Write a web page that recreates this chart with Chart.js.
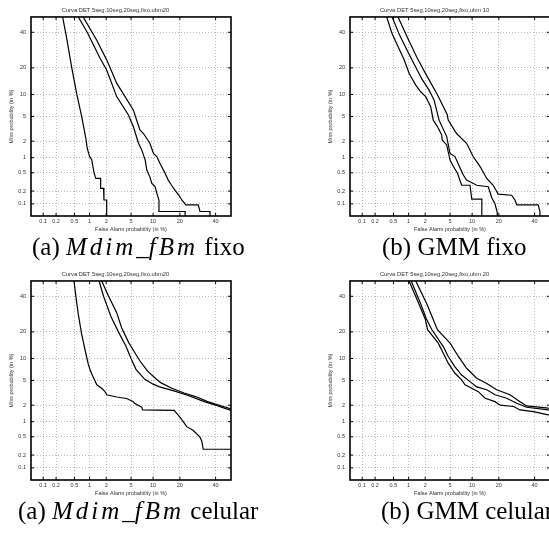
<!DOCTYPE html>
<html>
<head>
<meta charset="utf-8">
<script src="https://cdn.jsdelivr.net/npm/chart.js@4.4.1/dist/chart.umd.min.js"></script>
<style>
  html, body { margin: 0; padding: 0; background: #fff; overflow: hidden; }
  #page { position: relative; width: 549px; height: 534px; overflow: hidden; background: #fff; }
  canvas { position: absolute; }
  .cap { position: absolute; font-family: "Liberation Serif", "DejaVu Serif", serif; font-size: 25px; line-height: 25px; white-space: nowrap; color: #000; }
  .m { font-style: italic; letter-spacing: 3px; }
</style>
</head>
<body>
<div id="page">
  <canvas id="c0" width="262" height="240" style="left:0;top:0"></canvas>
  <canvas id="c1" width="262" height="240" style="left:319px;top:0"></canvas>
  <canvas id="c2" width="262" height="240" style="left:0;top:264px"></canvas>
  <canvas id="c3" width="262" height="240" style="left:319px;top:264px"></canvas>
  <div class="cap" style="left:32px;top:234px">(a) <span class="m">Mdim</span>_<span class="m">fBm</span> fixo</div>
  <div class="cap" style="left:382px;top:234px">(b) GMM fixo</div>
  <div class="cap" style="left:18px;top:498px">(a) <span class="m">Mdim</span>_<span class="m">fBm</span> celular</div>
  <div class="cap" style="left:381px;top:498px">(b) GMM celular</div>
</div>
<script>
// DET axes, values in %
const detTicks = [0.1, 0.2, 0.5, 1, 2, 5, 10, 20, 40];
const axisMin = 0.05;
const axisMax = 50;

const titles = [
  "Curva DET 5seg,10seg,20seg,fixo,ubm20",
  "Curva DET 5seg,10seg,20seg,fixo,ubm 10",
  "Curva DET 5seg,10seg,20seg,fixo,ubm20",
  "Curva DET 5seg,10seg,20seg,fixo,ubm 20"
];

// [false alarm %, miss %]
const mdimFixo20 = [[0.28,50],[0.34,37],[0.44,20],[0.56,10],[0.70,5],[0.85,2.2],[0.9,1.5],[1.0,1.05],[1.1,0.9],[1.2,0.53],[1.3,0.38],[1.6,0.38],[1.6,0.23],[1.8,0.23],[1.83,0.124],[2.04,0.124],[2.04,0.01]];
const mdimFixo10 = [[0.60,50],[0.90,40],[1.56,24.7],[2.04,19],[3.0,9.4],[4.55,5.3],[5.4,3.5],[6.4,1.84],[7.1,1.4],[7.9,0.9],[8.3,0.57],[9.1,0.41],[9.6,0.30],[10.6,0.25],[11.1,0.18],[11.8,0.124],[11.8,0.065],[22.5,0.065],[22.5,0.01]];
const mdimFixo5 = [[0.75,50],[1.36,35],[2.04,23.9],[3.0,13.7],[5.4,6.2],[6.7,3.1],[7.5,2.7],[9.1,1.84],[10.1,1.2],[11.1,1.05],[12.1,0.78],[13.9,0.49],[15.1,0.35],[16.4,0.27],[17.8,0.21],[19.6,0.16],[20.9,0.124],[22.9,0.095],[29.5,0.095],[30.5,0.065],[36.5,0.065],[36.5,0.01]];

const gmmFixo20 = [[0.36,50],[0.47,39],[0.65,30],[0.82,24],[1.02,17.6],[1.36,13],[1.67,10.8],[2.04,9.4],[2.48,6.9],[2.74,4.4],[3.2,3.5],[3.74,2.56],[3.8,2.1],[4.46,1.72],[5.0,0.9],[5.6,0.67],[6.4,0.49],[7.3,0.27],[9.4,0.27],[9.9,0.13],[13.1,0.13],[13.1,0.01]];
const gmmFixo10 = [[0.47,50],[0.65,39],[0.94,29],[1.26,22],[1.78,15],[2.32,11.4],[2.82,8.5],[3.4,4.4],[4.46,2.4],[5.0,1.2],[5.9,1.05],[6.8,0.67],[7.7,0.45],[8.5,0.35],[11.4,0.27],[15.5,0.25],[16.9,0.14],[18.3,0.1],[19.3,0.06],[19.3,0.01]];
const gmmFixo5 = [[0.62,50],[0.94,37],[1.45,24.7],[2.17,16.2],[3.2,9.9],[4.55,5.3],[4.7,4.4],[6.2,2.7],[8.5,1.84],[10.3,1.05],[12.5,0.67],[14.9,0.38],[17.5,0.27],[19.7,0.17],[26.4,0.16],[28.2,0.124],[29.2,0.095],[42.3,0.095],[43.4,0.065],[43.4,0.01]];

const mdimCel20 = [[0.49,50],[0.54,39],[0.60,29],[0.70,19],[0.82,12.6],[0.94,8.5],[1.02,7.1],[1.1,6.2],[1.36,4.3],[1.6,3.9],[1.9,3.4],[2.04,3.0],[3.0,2.75],[4.3,2.6],[5.4,2.3],[5.6,2.16],[7.1,1.84],[7.3,1.65],[17.5,1.62],[20.1,1.2],[21.6,1.0],[23.3,0.8],[26.8,0.67],[30.5,0.49],[31.5,0.41],[32.4,0.27],[60,0.27]];
const mdimCel10 = [[1.5,50],[1.8,40],[2.4,28],[3.2,20],[4.2,14],[5.0,10],[5.9,7.2],[7.8,5.2],[10,4.4],[12,4.0],[17,3.5],[23,3.0],[33,2.3],[40,2.0],[50,1.62],[60,1.5]];
const mdimCel5 = [[1.67,50],[2.2,40],[3.0,30],[3.6,22],[4.6,15.5],[5.6,12],[6.6,9.5],[8.5,6.8],[11,5.2],[12.5,4.6],[16.5,3.8],[22,3.2],[28,2.8],[35,2.3],[45,1.9],[50,1.72],[60,1.6]];

const gmmCel20 = [[1.02,50],[1.56,35],[2.0,26.5],[2.2,21],[3.3,15.2],[3.96,11.6],[4.7,8.7],[5.9,6.35],[7.3,5.1],[8.1,4.3],[9.9,3.8],[11.9,3.36],[14.3,2.63],[18.3,2.3],[20.6,2.0],[27.4,1.9],[31.1,1.65],[39.2,1.54],[48.9,1.34],[60,1.3]];
const gmmCel10 = [[1.12,50],[1.68,35],[2.1,26.5],[2.6,21],[3.96,13.9],[4.7,10.6],[5.9,7.8],[7.3,6.0],[9.4,4.8],[11.4,4.0],[14.9,3.6],[18.3,3.0],[23.8,2.63],[29.2,2.16],[35,1.84],[48.9,1.65],[60,1.6]];
const gmmCel5 = [[1.36,50],[2.15,35],[2.6,28],[3.2,21],[5.0,15.2],[6.6,10.6],[8.5,7.45],[11.4,5.4],[14.9,4.5],[19,3.6],[25.5,3.0],[31.1,2.3],[35,1.94],[48.9,1.77],[60,1.7]];

const panels = [
  [mdimFixo20, mdimFixo10, mdimFixo5],
  [gmmFixo20, gmmFixo10, gmmFixo5],
  [mdimCel20, mdimCel10, mdimCel5],
  [gmmCel20, gmmCel10, gmmCel5]
];

// inverse normal cdf (Acklam), for the normal deviate scale
function probit(p) {
  const a = [-39.69683028665376, 220.9460984245205, -275.9285104469687, 138.3577518672690, -30.66479806614716, 2.506628277459239];
  const b = [-54.47609879822406, 161.5858368580409, -155.6989798598866, 66.80131188771972, -13.28068155288572];
  const c = [-0.007784894002430293, -0.3223964580411365, -2.400758277161838, -2.549732539343734, 4.374664141464968, 2.938163982698783];
  const d = [0.007784695709041462, 0.3224671290700398, 2.445134137142996, 3.754408661907416];
  const pl = 0.02425;
  let q, r;
  if (p < pl) {
    q = Math.sqrt(-2 * Math.log(p));
    return (((((c[0]*q + c[1])*q + c[2])*q + c[3])*q + c[4])*q + c[5]) / ((((d[0]*q + d[1])*q + d[2])*q + d[3])*q + 1);
  }
  if (p > 1 - pl) {
    q = Math.sqrt(-2 * Math.log(1 - p));
    return -(((((c[0]*q + c[1])*q + c[2])*q + c[3])*q + c[4])*q + c[5]) / ((((d[0]*q + d[1])*q + d[2])*q + d[3])*q + 1);
  }
  q = p - 0.5; r = q * q;
  return (((((a[0]*r + a[1])*r + a[2])*r + a[3])*r + a[4])*r + a[5]) * q / (((((b[0]*r + b[1])*r + b[2])*r + b[3])*r + b[4])*r + 1);
}
const z = pct => probit(pct / 100);

const fam = "'Liberation Sans', Arial, sans-serif";
const txt = "#333";

function detAxis(pos, label) {
  const isY = pos === "left";
  return {
    type: "linear",
    position: pos,
    min: z(axisMin),
    max: z(axisMax),
    afterBuildTicks: s => { s.ticks = detTicks.map(t => ({ value: z(t) })); },
    afterFit: s => { if (isY) s.width = 31; else s.height = 24; },
    ticks: {
      autoSkip: false,
      maxRotation: 0,
      padding: isY ? 5 : 2.2,
      font: { family: fam, size: 5.5 },
      color: txt,
      callback: (v, i) => String(detTicks[i])
    },
    grid: { color: "#999", lineWidth: 0.7, drawTicks: false },
    border: { display: false, dash: [1, 2] },
    title: {
      display: true,
      text: label,
      font: { family: fam, size: 5.5 },
      color: txt,
      padding: isY ? { top: 7.7, bottom: 0 } : { top: 0, bottom: 7.4 }
    }
  };
}

// black box round the plot, with small inner ticks
const frame = {
  id: "frame",
  afterDatasetsDraw(chart) {
    const { ctx, chartArea: a, scales } = chart;
    ctx.save();
    ctx.strokeStyle = "#000";
    ctx.lineWidth = 1;
    detTicks.forEach(t => {
      const px = scales.x.getPixelForValue(z(t));
      const py = scales.y.getPixelForValue(z(t));
      ctx.beginPath();
      ctx.moveTo(px, a.top); ctx.lineTo(px, a.top + 3);
      ctx.moveTo(px, a.bottom); ctx.lineTo(px, a.bottom - 3);
      ctx.moveTo(a.left, py); ctx.lineTo(a.left + 3, py);
      ctx.moveTo(a.right, py); ctx.lineTo(a.right - 3, py);
      ctx.stroke();
    });
    ctx.lineWidth = 1.6;
    ctx.strokeRect(a.left, a.top, a.right - a.left, a.bottom - a.top);
    ctx.restore();
  }
};

panels.forEach((curves, k) => {
  new Chart(document.getElementById("c" + k), {
    type: "scatter",
    data: {
      datasets: curves.map(pts => ({
        data: pts.map(([fa, miss]) => ({ x: z(fa), y: z(miss) })),
        showLine: true,
        borderColor: "#000",
        borderWidth: 1.2,
        pointRadius: 0,
        tension: 0
      }))
    },
    options: {
      responsive: false,
      animation: false,
      layout: { padding: { left: 0, right: 31, top: 0, bottom: 0 } },
      scales: {
        x: detAxis("bottom", "False Alarm probability (in %)"),
        y: detAxis("left", "Miss probability (in %)")
      },
      plugins: {
        legend: { display: false },
        tooltip: { enabled: false },
        title: {
          display: true,
          text: titles[k],
          font: { family: fam, size: 5.8, weight: "normal" },
          color: txt,
          padding: { top: 6.5, bottom: 3.5 }
        }
      }
    },
    plugins: [frame]
  });
});
</script>
</body>
</html>
